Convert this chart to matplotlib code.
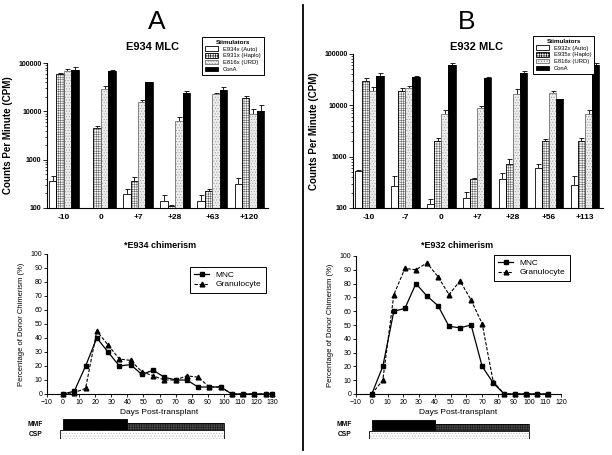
import numpy as np
import matplotlib.pyplot as plt
from matplotlib.lines import Line2D
from matplotlib.ticker import FixedLocator, LogLocator, FuncFormatter, NullFormatter

plt.rcParams['font.family'] = ['Liberation Sans', 'DejaVu Sans']
plt.rcParams['hatch.linewidth'] = 0.4

# ---------------- data ----------------
# Panel A: E934 MLC (CPM, mean and upper error)
a_days = ['-10', '0', '+7', '+28', '+63', '+120']
a_stims = ['E934x (Auto)', 'E931x (Haplo)', 'E816x (URD)', 'ConA']
a_auto = [356, np.nan, 195, 140, 140, 309]
a_auto_err = [111, np.nan, 56, 46, 43, 115]
a_haplo = [59200, 4520, 362, 112, 228, 18900]
a_haplo_err = [1800, 530, 75, 5, 15, 1500]
a_urd = [67300, 29000, 15300, 6210, 22900, 8960]
a_urd_err = [7700, 3900, 1800, 1300, 1000, 2240]
a_cona = [70500, 67300, 39800, 24300, 28000, 10300]
a_cona_err = [12100, 5500, 1100, 2100, 3400, 3400]

# Panel B: E932 MLC
b_days = ['-10', '-7', '0', '+7', '+28', '+56', '+113']
b_stims = ['E932x (Auto)', 'E935x (Haplo)', 'E816x (URD)', 'ConA']
b_auto = [526, 272, 121, 159, 373, 611, 285]
b_auto_err = [14, 148, 31, 46, 115, 120, 135]
b_haplo = [30300, 19100, 2020, 373, 710, 2020, 2020]
b_haplo_err = [3400, 3100, 320, 11, 204, 160, 320]
b_urd = [19400, 22200, 6890, 8750, 16900, 17700, 6890]
b_urd_err = [3800, 1700, 1110, 1110, 4200, 1300, 1110]
b_cona = [37400, 35700, 61200, 34800, 42200, 13500, 61200]
b_cona_err = [4800, 1100, 4800, 1500, 5300, 0, 4800]

# Chimerism (% donor)
chim_a_days = [0, 7, 14, 21, 28, 35, 42, 49, 56, 63, 70, 77, 84, 91, 98, 105, 112, 119, 126, 130]
chim_a_mnc = [0, 2, 20, 40, 30, 20, 21, 14, 17, 12, 10, 10, 5, 5, 5, 0, 0, 0, 0, 0]
chim_a_gran = [0, 1, 4, 45, 35, 25, 24, 16, 13, 10, 10, 13, 12, 5, 5, 0, 0, 0, 0, 0]

chim_b_days = [0, 7, 14, 21, 28, 35, 42, 49, 56, 63, 70, 77, 84, 91, 98, 105, 112]
chim_b_mnc = [0, 20, 60, 62, 80, 71, 64, 49, 48, 50, 20, 8, 0, 0, 0, 0, 0]
chim_b_gran = [0, 10, 72, 91, 90, 95, 85, 72, 82, 68, 51, 9, 0, 0, 0, 0, 0]

# Immunosuppression schedule (days)
mmf_full = (0, 40)
mmf_taper = (40, 100)
csp = (-2, 100)

# ---------------- figure ----------------
W, H = 612, 455
fig = plt.figure(figsize=(W / 100, H / 100), dpi=100)


def px_axes(x0, y0, x1, y1):
    return fig.add_axes([x0 / W, 1 - y1 / H, (x1 - x0) / W, (y1 - y0) / H])


def style_spines(ax):
    ax.spines['top'].set_visible(False)
    ax.spines['right'].set_visible(False)
    ax.spines['left'].set_linewidth(0.8)
    ax.spines['bottom'].set_linewidth(0.8)


def mlc_panel(ax, days, stims, series, errs, legend_xy):
    x = np.arange(len(days))
    w = 0.2
    ax.set_yscale('log')
    styles = [
        dict(face='white', hatch=None, hcol='black', edge='black'),
        dict(face='white', hatch='+++++++', hcol='0.4', edge='black'),
        dict(face='0.93', hatch='......', hcol='0.6', edge='0.45'),
        dict(face='black', hatch=None, hcol='black', edge='black'),
    ]
    handles = []
    for i, (vals, err, st) in enumerate(zip(series, errs, styles)):
        xi = x + (i - 1.5) * w
        vals = np.array(vals, dtype=float)
        err = np.array(err, dtype=float)
        ax.bar(xi, vals, w, color=st['face'], hatch=st['hatch'],
               edgecolor=st['hcol'], linewidth=0, zorder=2)
        ax.bar(xi, vals, w, fill=False, edgecolor=st['edge'], linewidth=0.6, zorder=3)
        ax.errorbar(xi, vals, yerr=[np.zeros_like(err), err], fmt='none',
                    ecolor='black', elinewidth=0.6, capsize=1.8, capthick=0.6, zorder=1)
        h = plt.Rectangle((0, 0), 1, 1, facecolor=st['face'], hatch=st['hatch'],
                          edgecolor=st['edge'], linewidth=0.6)
        handles.append(h)
    ax.set_ylim(100, 100000)
    ax.set_xlim(-0.45, len(days) - 0.5)
    ax.yaxis.set_major_locator(FixedLocator([100, 1000, 10000, 100000]))
    ax.yaxis.set_major_formatter(FuncFormatter(lambda v, p: '%d' % v))
    ax.yaxis.set_minor_locator(LogLocator(base=10, subs=np.arange(2, 10)))
    ax.yaxis.set_minor_formatter(NullFormatter())
    ax.set_xticks(x)
    ax.set_xticklabels(days, fontsize=6, fontweight='bold')
    for t in ax.get_yticklabels():
        t.set_fontsize(5)
        t.set_fontweight('bold')
    ax.tick_params(axis='y', which='major', length=3, width=0.6, pad=1)
    ax.tick_params(axis='y', which='minor', length=1.5, width=0.5)
    ax.tick_params(axis='x', length=0, pad=4)
    ax.set_ylabel('Counts Per Minute (CPM)', fontsize=7, fontweight='bold', labelpad=4)
    style_spines(ax)
    leg = ax.legend(handles, stims, loc='upper left',
                    bbox_to_anchor=(legend_xy[0] / W, 1 - legend_xy[1] / H),
                    bbox_transform=fig.transFigure, borderaxespad=0,
                    title='Stimulators', fontsize=4.2, title_fontproperties={'size': 4.5, 'weight': 'bold'},
                    handlelength=2.3, handleheight=0.8, handletextpad=0.8,
                    labelspacing=0.25, borderpad=0.5, fancybox=False, framealpha=1,
                    edgecolor='black')
    leg.get_frame().set_linewidth(0.7)


def chim_panel(ax, days, mnc, gran, xmax, legend_xy):
    ax.plot(days, mnc, '-', color='black', lw=0.9, marker='s', ms=3.2,
            label='MNC', clip_on=False, zorder=3)
    ax.plot(days, gran, '--', color='black', lw=0.8, marker='^', ms=3.4,
            dashes=(3, 1.5), label='Granulocyte', clip_on=False, zorder=3)
    ax.set_xlim(-10, xmax)
    ax.set_ylim(0, 100)
    ax.set_xticks(np.arange(-10, xmax + 1, 10))
    ax.set_yticks(np.arange(0, 101, 10))
    ax.tick_params(labelsize=5, length=2.5, width=0.6, pad=1)
    ax.set_xlabel('Days Post-transplant', fontsize=6, labelpad=2)
    ax.set_ylabel('Percentage of Donor Chimerism (%)', fontsize=5.5, labelpad=4)
    style_spines(ax)
    leg = ax.legend(loc='upper left', bbox_to_anchor=(legend_xy[0] / W, 1 - legend_xy[1] / H),
                    bbox_transform=fig.transFigure, borderaxespad=0, fontsize=6,
                    handlelength=1.8, labelspacing=0.2, borderpad=0.5,
                    fancybox=False, framealpha=1, edgecolor='black')
    leg.get_frame().set_linewidth(0.7)


def treatment_panel(ax, xmin, xmax):
    ax.set_xlim(xmin, xmax)
    ax.set_ylim(0, 20)
    ax.axis('off')
    ax.barh(14.5, mmf_full[1] - mmf_full[0], height=11, left=mmf_full[0],
            color='black', edgecolor='black', linewidth=0.6)
    ax.barh(12.5, mmf_taper[1] - mmf_taper[0], height=7, left=mmf_taper[0],
            color='0.3', hatch='+++++++', edgecolor='0.1', linewidth=0)
    ax.barh(12.5, mmf_taper[1] - mmf_taper[0], height=7, left=mmf_taper[0],
            fill=False, edgecolor='black', linewidth=0.6)
    ax.barh(4.5, csp[1] - csp[0], height=8.5, left=csp[0],
            color='white', hatch='......', edgecolor='0.7', linewidth=0)
    ax.barh(4.5, csp[1] - csp[0], height=8.5, left=csp[0],
            fill=False, edgecolor='black', linewidth=0.6)
    ax.text(-0.02, 0.75, 'MMF', transform=ax.transAxes, ha='right', va='center',
            fontsize=4.8, fontweight='bold')
    ax.text(-0.02, 0.25, 'CSP', transform=ax.transAxes, ha='right', va='center',
            fontsize=4.8, fontweight='bold')


# top bar charts
ax_a = px_axes(47, 63, 268, 208)
mlc_panel(ax_a, a_days, a_stims, [a_auto, a_haplo, a_urd, a_cona],
          [a_auto_err, a_haplo_err, a_urd_err, a_cona_err], (202, 37))
ax_b = px_axes(353, 54, 603, 208)
mlc_panel(ax_b, b_days, b_stims, [b_auto, b_haplo, b_urd, b_cona],
          [b_auto_err, b_haplo_err, b_urd_err, b_cona_err], (533, 36))

# chimerism
ax_c = px_axes(47, 254, 272, 394)
chim_panel(ax_c, chim_a_days, chim_a_mnc, chim_a_gran, 130, (190, 267))
ax_d = px_axes(356, 256, 561, 394)
chim_panel(ax_d, chim_b_days, chim_b_mnc, chim_b_gran, 120, (494, 255))

# immunosuppression bars
tx_c = px_axes(47, 419, 272, 439)
treatment_panel(tx_c, -10, 130)
tx_d = px_axes(356, 420, 561, 439)
treatment_panel(tx_d, -10, 120)

# headings
fig.text(157 / W, 1 - 22 / H, 'A', fontsize=19, ha='center', va='center')
fig.text(467 / W, 1 - 22 / H, 'B', fontsize=19, ha='center', va='center')
fig.text(153 / W, 1 - 47 / H, 'E934 MLC', fontsize=8, fontweight='bold', ha='center', va='center')
fig.text(476 / W, 1 - 47 / H, 'E932 MLC', fontsize=8, fontweight='bold', ha='center', va='center')
fig.text(160 / W, 1 - 245 / H, '*E934 chimerism', fontsize=6.5, fontweight='bold', ha='center', va='center')
fig.text(457 / W, 1 - 245 / H, '*E932 chimerism', fontsize=6.5, fontweight='bold', ha='center', va='center')

# divider between panels
fig.add_artist(Line2D([303 / W, 303 / W], [1 - 5 / H, 1 - 450 / H], color='black', lw=1.3))

fig.savefig('out.png', dpi=100)
